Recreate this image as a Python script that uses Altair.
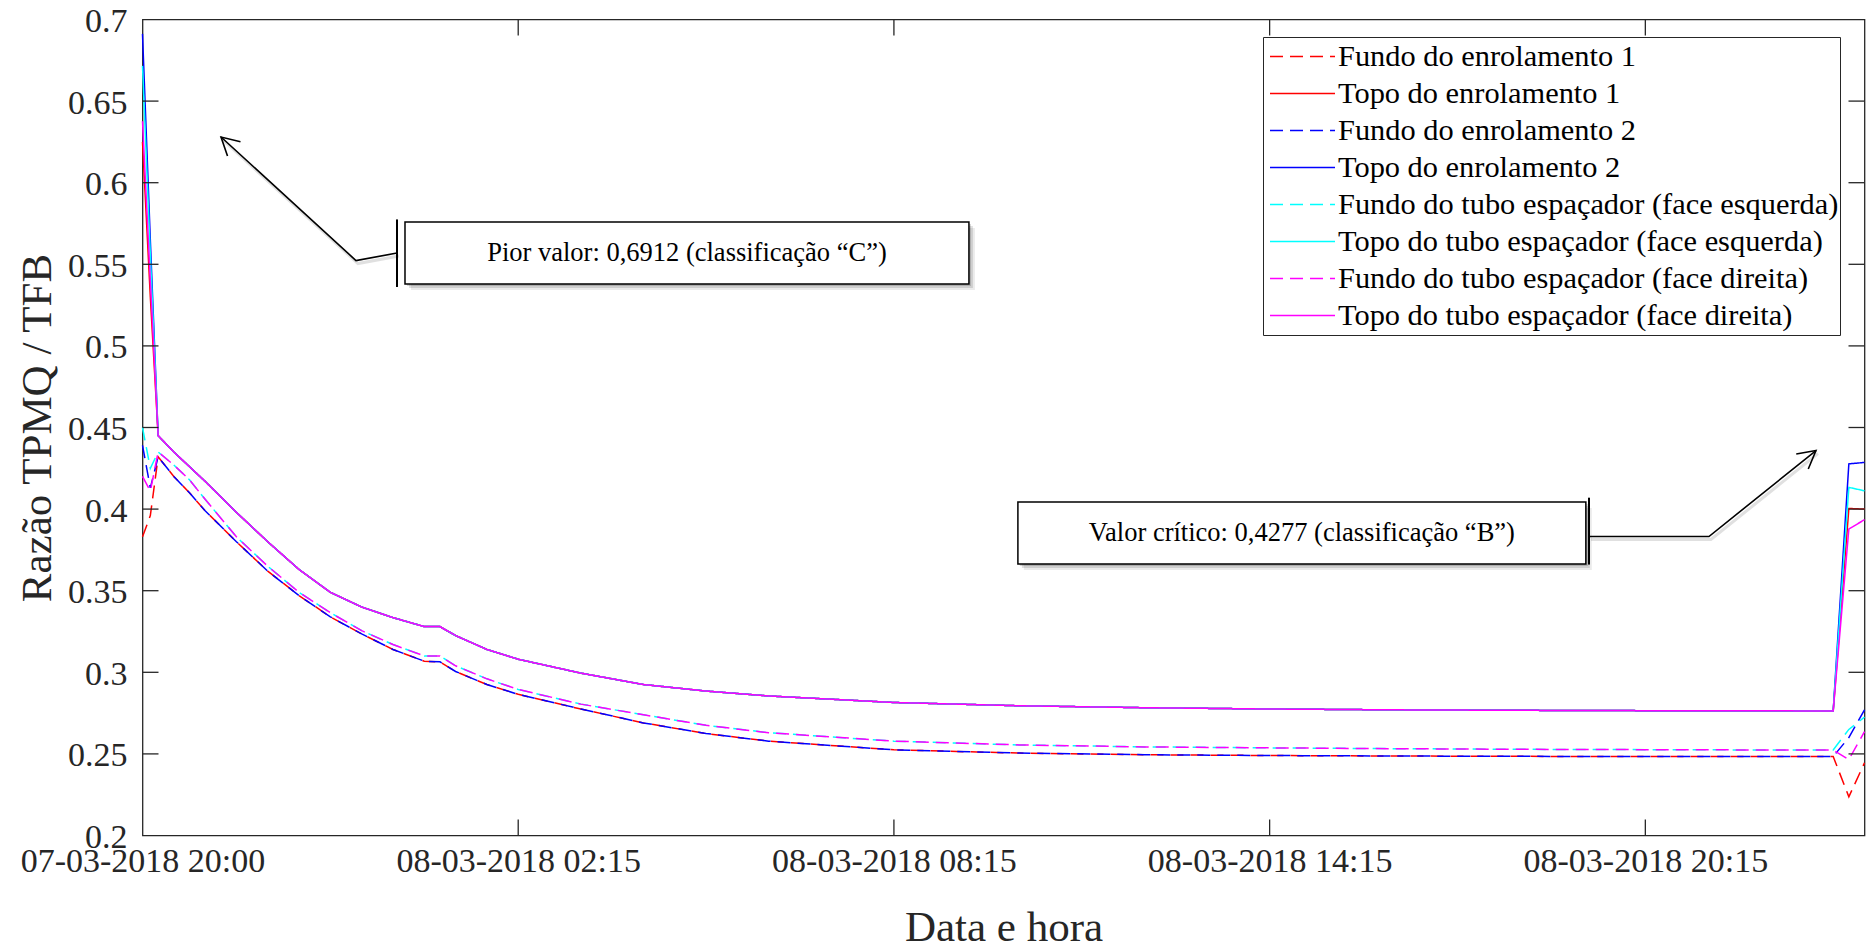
import altair as alt
import pandas as pd

# ---------------- data ----------------
horas = [0, 0.125, 0.25, 0.5, 0.75, 1.0, 1.5, 2.0, 2.5, 3.0, 3.5, 4.0, 4.5, 4.75,
         5.0, 5.5, 6.0, 7.0, 8.0, 9.0, 10.0, 12.0, 14.0, 16.0, 18.0, 20.0, 22.0,
         24.0, 26.0, 27.0, 27.25, 27.5]

# common central parts (0.25 h .. 27.0 h)
topo_meio = [0.445, 0.435, 0.426, 0.417, 0.398, 0.380, 0.363, 0.349, 0.340, 0.3335,
             0.328, 0.328, 0.3225, 0.314, 0.308, 0.2995, 0.2925, 0.2885, 0.2855,
             0.2815, 0.2795, 0.2783, 0.2775, 0.2770, 0.2767, 0.2765, 0.2764, 0.2763]
fundo_baixo_meio = [0.432, 0.420, 0.410, 0.399, 0.380, 0.362, 0.347, 0.334, 0.3235,
                    0.314, 0.3068, 0.3064, 0.3005, 0.2925, 0.2865, 0.2775, 0.2690,
                    0.2625, 0.2578, 0.2525, 0.2505, 0.2495, 0.2490, 0.2487, 0.2485,
                    0.2484, 0.2484, 0.2484]
fundo_alto_meio = [0.435, 0.427, 0.418, 0.406, 0.383, 0.365, 0.349, 0.3365, 0.3255,
                   0.317, 0.310, 0.310, 0.304, 0.296, 0.2895, 0.2805, 0.2740, 0.2675,
                   0.2630, 0.2578, 0.2555, 0.2543, 0.2537, 0.2532, 0.2528, 0.2526,
                   0.2524, 0.2524]

fundo_enr1 = [0.383, 0.396] + fundo_baixo_meio + [0.2237, 0.2445]
topo_enr1 = [0.625, 0.530] + topo_meio + [0.4004, 0.4000]
fundo_enr2 = [0.439, 0.413] + fundo_baixo_meio + [0.2600, 0.2770]
topo_enr2 = [0.6912, 0.565] + topo_meio + [0.4277, 0.4286]
fundo_esq = [0.450, 0.425] + fundo_alto_meio + [0.2650, 0.2725]
topo_esq = [0.6716, 0.556] + topo_meio + [0.4133, 0.4112]
fundo_dir = [0.420, 0.411] + fundo_alto_meio + [0.2465, 0.2637]
topo_dir = [0.6376, 0.540] + topo_meio + [0.3878, 0.3935]

series = [
    "Fundo do enrolamento 1",
    "Topo do enrolamento 1",
    "Fundo do enrolamento 2",
    "Topo do enrolamento 2",
    "Fundo do tubo espaçador (face esquerda)",
    "Topo do tubo espaçador (face esquerda)",
    "Fundo do tubo espaçador (face direita)",
    "Topo do tubo espaçador (face direita)",
]
valores = [fundo_enr1, topo_enr1, fundo_enr2, topo_enr2,
           fundo_esq, topo_esq, fundo_dir, topo_dir]
cores = ["#FF0000", "#FF0000", "#0000FF", "#0000FF",
         "#00FFFF", "#00FFFF", "#FF00FF", "#FF00FF"]
tracos = [[13, 7], [1, 0], [13, 7], [1, 0], [13, 7], [1, 0], [13, 7], [1, 0]]

x_ticks = [0, 6, 12, 18, 24]
x_labels = ["07-03-2018 20:00", "08-03-2018 02:15", "08-03-2018 08:15",
            "08-03-2018 14:15", "08-03-2018 20:15"]
y_ticks = [0.2, 0.25, 0.3, 0.35, 0.4, 0.45, 0.5, 0.55, 0.6, 0.65, 0.7]
y_ticks_inner = [0.25, 0.3, 0.35, 0.4, 0.45, 0.5, 0.55, 0.6, 0.65]
x_ticks_inner = [6, 12, 18, 24]

# annotations (callouts)
ann_texto = ["Pior valor: 0,6912 (classificação \u201cC\u201d)",
             "Valor crítico: 0,4277 (classificação \u201cB\u201d)"]
ann_h1 = [4.192, 13.98]
ann_h2 = [13.198, 23.05]
ann_v1 = [0.5759, 0.4044]
ann_v2 = [0.5379, 0.3664]
ann_hc = [8.695, 18.515]
ann_vc = [0.5569, 0.3854]
barra_h = [4.064, 23.10]
barra_v1 = [0.5775, 0.4070]
barra_v2 = [0.5361, 0.3660]
seta_id = [0, 0, 0, 1, 1, 1]
seta_k = [0, 1, 2, 0, 1, 2]
seta_h = [1.254, 3.409, 4.064, 26.725, 25.016, 23.10]
seta_v = [0.628, 0.5523, 0.5569, 0.4359, 0.3832, 0.3832]
ponta_h = [1.254, 26.725]
ponta_v = [0.628, 0.4359]
ponta_ang = [312.5, 51.2]

# ---------------- build ----------------
W, H = 1722, 816
FONT = "Liberation Serif"
INK = "#262626"

rows = []
for nome, vals in zip(series, valores):
    for h, v in zip(horas, vals):
        rows.append({"serie": nome, "h": h, "v": v})
df = pd.DataFrame(rows)

xs = alt.Scale(domain=[0, 27.5], nice=False, zero=False)
ys = alt.Scale(domain=[0.2, 0.7], nice=False, zero=False)

label_expr = "[" + ",".join("'" + s + "'" for s in x_labels) + "][indexof([" + \
    ",".join(str(t) for t in x_ticks) + "], datum.value)]"

x_axis = alt.Axis(values=x_ticks, labelExpr=label_expr, title="Data e hora",
                  ticks=False, tickSize=0, domain=False, grid=False,
                  labelFlush=False, labelOverlap=False, labelBound=False,
                  labelLimit=0, labelPadding=9, titlePadding=28,
                  labelFont=FONT, labelFontSize=34, labelColor=INK,
                  titleFont=FONT, titleFontSize=43, titleColor=INK,
                  titleFontWeight="normal")
y_axis = alt.Axis(values=y_ticks, format="~g", title="Razão TPMQ / TFB",
                  ticks=False, tickSize=0, domain=False, grid=False,
                  labelFlush=False, labelOverlap=False, labelBound=False,
                  labelLimit=0, labelPadding=15.5, labelOffset=2, titlePadding=8,
                  labelFont=FONT, labelFontSize=34, labelColor=INK,
                  titleFont=FONT, titleFontSize=43, titleColor=INK,
                  titleFontWeight="normal")

leg = alt.Legend(title=None, orient="none", legendX=1120.5, legendY=17.5,
                 symbolType="stroke", symbolSize=4225, symbolStrokeWidth=1.5,
                 symbolOffset=5, labelOffset=2, labelFont=FONT, labelFontSize=30.4,
                 labelColor="black", labelLimit=0, clipHeight=37, rowPadding=0,
                 padding=1, strokeColor=INK, fillColor="white",
                 labelBaseline="middle", direction="vertical")

color_enc = alt.Color("serie:N", scale=alt.Scale(domain=series, range=cores),
                      legend=leg)
dash_enc = alt.StrokeDash("serie:N", scale=alt.Scale(domain=series, range=tracos),
                          legend=leg)


def X(field):
    return alt.X(field, scale=xs, axis=x_axis)


def Y(field):
    return alt.Y(field, scale=ys, axis=y_axis)


layers = []
for i, nome in enumerate(series):
    layers.append(
        alt.Chart(df).transform_filter(alt.datum.serie == nome)
        .mark_line(strokeWidth=1.5)
        .encode(x=X("h:Q"), y=Y("v:Q"), color=color_enc, strokeDash=dash_enc)
    )

# inward ticks (MATLAB style box)
dyt = pd.DataFrame({"v": y_ticks_inner})
dxt = pd.DataFrame({"h": x_ticks_inner})
tick_style = dict(color=INK, strokeWidth=1.3)
layers += [
    alt.Chart(dyt).mark_rule(**tick_style).encode(
        y=Y("v:Q"), x=alt.value(0), x2=alt.value(16)),
    alt.Chart(dyt).mark_rule(**tick_style).encode(
        y=Y("v:Q"), x=alt.value(W - 16), x2=alt.value(W)),
    alt.Chart(dxt).mark_rule(**tick_style).encode(
        x=X("h:Q"), y=alt.value(H - 16), y2=alt.value(H)),
    alt.Chart(dxt).mark_rule(**tick_style).encode(
        x=X("h:Q"), y=alt.value(0), y2=alt.value(16)),
]

# callouts
dbox = pd.DataFrame({"h1": ann_h1, "h2": ann_h2, "v1": ann_v1, "v2": ann_v2,
                     "hc": ann_hc, "vc": ann_vc, "t": ann_texto})
dbar = pd.DataFrame({"h": barra_h, "v1": barra_v1, "v2": barra_v2})
dseta = pd.DataFrame({"id": seta_id, "k": seta_k, "h": seta_h, "v": seta_v})
dponta = pd.DataFrame({"h": ponta_h, "v": ponta_v, "a": ponta_ang})

box_enc = dict(x=X("h1:Q"), x2="h2:Q", y=Y("v1:Q"), y2="v2:Q")
for off, op in [(2, 0.16), (4, 0.12), (6, 0.08)]:
    layers.append(alt.Chart(dbox).mark_rect(
        color="#000000", opacity=op, xOffset=off, x2Offset=off,
        yOffset=off, y2Offset=off).encode(**box_enc))
layers.append(alt.Chart(dbox).mark_rect(
    fill="white", stroke="black", strokeWidth=1.5).encode(**box_enc))
layers.append(alt.Chart(dbox).mark_text(
    font=FONT, fontSize=26.5, color="black", align="center", baseline="middle"
).encode(x=X("hc:Q"), y=Y("vc:Q"), text="t:N"))

# arrow shadows + arrows
layers.append(alt.Chart(dseta).mark_line(
    color="#000000", opacity=0.12, strokeWidth=3, xOffset=2, yOffset=3).encode(
    x=X("h:Q"), y=Y("v:Q"), detail="id:N", order="k:Q"))
layers.append(alt.Chart(dseta).mark_line(color="black", strokeWidth=1.6).encode(
    x=X("h:Q"), y=Y("v:Q"), detail="id:N", order="k:Q"))
layers.append(alt.Chart(dbar).mark_rule(color="black", strokeWidth=2).encode(
    x=X("h:Q"), y=Y("v1:Q"), y2="v2:Q"))
layers.append(alt.Chart(dponta).mark_point(
    shape="M-0.48,0.88L0,0L0.48,0.88", size=1600, filled=False,
    stroke="black", strokeWidth=1.6, opacity=1).encode(
    x=X("h:Q"), y=Y("v:Q"), angle=alt.Angle("a:Q", scale=None)))

chart = alt.layer(*layers).properties(
    width=W, height=H,
    background="white",
    padding={"left": 134.5, "top": 11.5, "right": 1.5, "bottom": 106.5},
    autosize=alt.AutoSizeParams(type="none"),
).configure_view(
    stroke=INK, strokeWidth=1.3
)

chart.save("out.html", embed_options={"renderer": "svg", "actions": False})
